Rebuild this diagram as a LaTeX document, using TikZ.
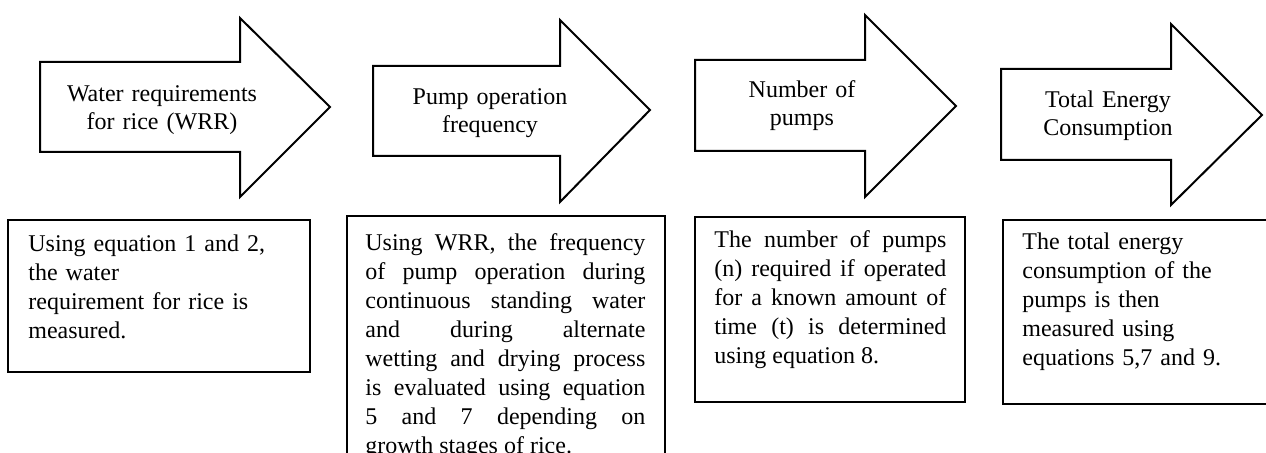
\documentclass[tikz,border=0pt]{standalone}
\usepackage{fontspec}
\setmainfont{Liberation Serif}
\begin{document}
\begin{tikzpicture}[x=0.5pt,y=-0.5pt,
  arrowshape/.style={draw=black,line width=1pt,line join=miter,fill=white},
  descbox/.style={draw=black,line width=0.8pt},
  arrowtext/.style={text width=110pt,align=center,inner sep=0pt,anchor=base,font=\fontsize{12}{14}\selectfont},
  desctext/.style={inner sep=0pt,anchor=base west,font=\fontsize{12}{14.5}\selectfont}]
\useasboundingbox (0,0) rectangle (1266,453);
\clip (0,0) rectangle (1266,453);
% arrows
\draw[arrowshape] (40,62)--(240,62)--(240,18)--(330,107)--(240,197)--(240,152)--(40,152)--cycle;
\draw[arrowshape] (373,66)--(560,66)--(560,20)--(650,110)--(560,202)--(560,156)--(373,156)--cycle;
\draw[arrowshape] (695,60)--(865,60)--(865,15)--(956,106)--(865,197)--(865,151)--(695,151)--cycle;
\draw[arrowshape] (1001,69)--(1171,69)--(1171,24)--(1262,115)--(1171,205)--(1171,160)--(1001,160)--cycle;
\node[arrowtext] (t1) at (162,102) {Water requirements\\for rice (WRR)};
\node[arrowtext] (t2) at (490,105) {Pump operation\\frequency};
\node[arrowtext] (t3) at (802,98) {Number of\\pumps};
\node[arrowtext] (t4) at (1108,108) {Total Energy\\Consumption};
% boxes
\draw[descbox] (8,220) rectangle (310,372);
\draw[descbox] (347,216) rectangle (665,480);
\draw[descbox] (695,217) rectangle (965,402);
\draw[descbox] (1003,220) rectangle (1290,404);
\node[desctext,text width=140pt,align=left] (d1) at (28,252) {Using equation 1 and 2,\\the water\\requirement for rice is\\measured.};
\node[desctext,text width=140pt,align=justify] (d2) at (365,251) {Using WRR, the frequency\linebreak of pump operation during\linebreak continuous standing water\linebreak and during alternate\linebreak wetting and drying process\linebreak is evaluated using equation\linebreak 5 and 7 depending on\linebreak growth stages of rice.};
\node[desctext,text width=116pt,align=justify] (d3) at (714,248) {The number of pumps\linebreak (n) required if operated\linebreak for a known amount of\linebreak time (t) is determined\linebreak using equation 8.};
\node[desctext,text width=120pt,align=left] (d4) at (1022,250) {The total energy\\consumption of the\\pumps is then\\measured using\\equations 5,7 and 9.};
\end{tikzpicture}
\end{document}
